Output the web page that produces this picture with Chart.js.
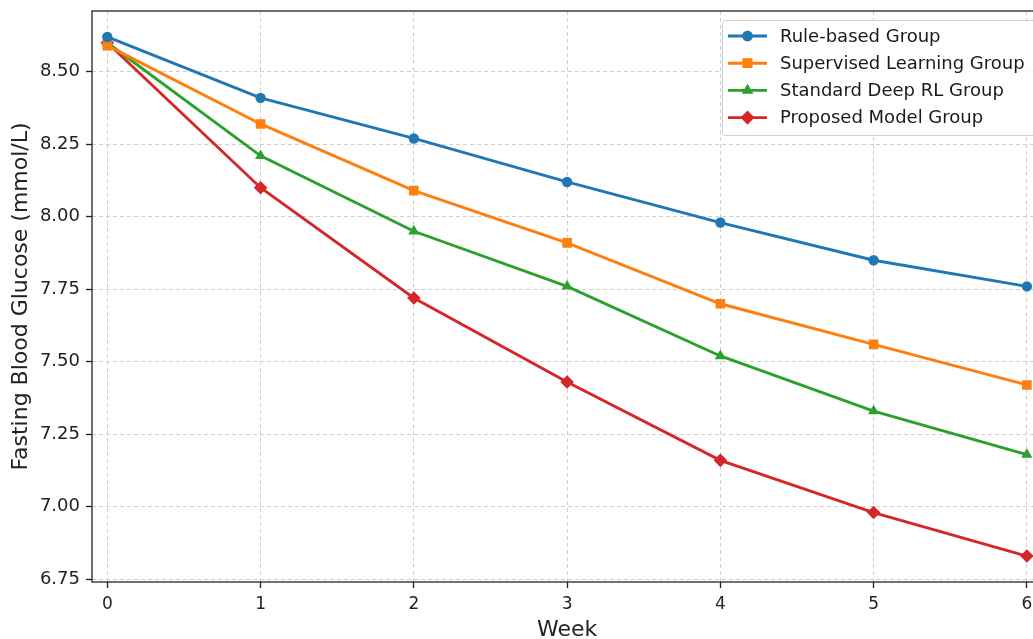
<!DOCTYPE html>
<html>
<head>
<meta charset="utf-8">
<script src="https://cdn.jsdelivr.net/npm/chart.js@4.4.1/dist/chart.umd.min.js"></script>
<style>
html,body{margin:0;padding:0;background:#fff;overflow:hidden;width:1033px;height:639px;}
#wrap{position:absolute;left:0;top:0;width:1049px;height:639px;}
</style>
</head>
<body>
<div id="wrap"><canvas id="c" width="1049" height="639"></canvas></div>
<script>
const weeks = [0, 1, 2, 3, 4, 5, 6];
const ruleBased = [8.62, 8.41, 8.27, 8.12, 7.98, 7.85, 7.76];
const supervised = [8.59, 8.32, 8.09, 7.91, 7.70, 7.56, 7.42];
const standardRL = [8.60, 8.21, 7.95, 7.76, 7.52, 7.33, 7.18];
const proposed = [8.60, 8.10, 7.72, 7.43, 7.16, 6.98, 6.83];
const yTicks = [6.75, 7.00, 7.25, 7.50, 7.75, 8.00, 8.25, 8.50];
const seriesNames = ['Rule-based Group', 'Supervised Learning Group', 'Standard Deep RL Group', 'Proposed Model Group'];

const colors = ['#1f77b4', '#ff7f0e', '#2ca02c', '#d62728'];
const markers = ['circle', 'rect', 'triangle', 'rectRot'];
const radii = [5.2, 6.8, 6.4, 6.8];
const FONT = "'DejaVu Sans', sans-serif";

function mk(vals, i) {
  return {
    label: seriesNames[i],
    data: weeks.map((w, k) => ({x: w, y: vals[k]})),
    borderColor: colors[i],
    backgroundColor: colors[i],
    borderWidth: 2.9,
    pointStyle: markers[i],
    pointRadius: radii[i],
    pointHoverRadius: radii[i],
    pointBorderWidth: 0,
    tension: 0
  };
}

const frame = {
  id: 'frame',
  afterDatasetsDraw(chart) {
    const {ctx, chartArea: a} = chart;
    ctx.save();
    ctx.strokeStyle = '#222';
    ctx.lineWidth = 1.3;
    ctx.strokeRect(a.left, a.top, a.right - a.left, a.bottom - a.top);
    // legend
    const lx = 722, ly = 20, lw = 330, lh = 115;
    ctx.fillStyle = 'rgba(255,255,255,0.85)';
    ctx.strokeStyle = '#d0d0d0';
    ctx.lineWidth = 1;
    ctx.beginPath();
    if (ctx.roundRect) ctx.roundRect(lx + 0.5, ly + 0.5, lw, lh, 3); else ctx.rect(lx + 0.5, ly + 0.5, lw, lh);
    ctx.fill(); ctx.stroke();
    ctx.font = '18px ' + FONT;
    ctx.textBaseline = 'middle';
    for (let i = 0; i < seriesNames.length; i++) {
      const y = 36 + i * 27.2;
      ctx.strokeStyle = colors[i];
      ctx.lineWidth = 2.9;
      ctx.beginPath(); ctx.moveTo(728, y); ctx.lineTo(767, y); ctx.stroke();
      ctx.fillStyle = colors[i];
      Chart.helpers.drawPoint(ctx, {pointStyle: markers[i], radius: radii[i], borderWidth: 0}, 747.5, y);
      ctx.fill();
      ctx.fillStyle = '#1a1a1a';
      ctx.fillText(seriesNames[i], 780, y + 1);
    }
    ctx.restore();
  }
};

new Chart(document.getElementById('c'), {
  type: 'line',
  data: { datasets: [mk(ruleBased, 0), mk(supervised, 1), mk(standardRL, 2), mk(proposed, 3)] },
  options: {
    responsive: false,
    animation: false,
    events: [],
    layout: { padding: { top: 11, right: 2, left: 0, bottom: 0 } },
    plugins: { legend: { display: false }, tooltip: { enabled: false } },
    scales: {
      x: {
        type: 'linear',
        min: -0.1, max: 6.1,
        afterBuildTicks(s) { s.ticks = weeks.map(v => ({value: v})); },
        afterFit(s) { s.height = 57; s.paddingLeft = 0; s.paddingRight = 0; },
        ticks: { color: '#222', font: { family: FONT, size: 17 }, padding: 6, callback: v => String(v) },
        grid: { color: '#cfcfcf', lineWidth: 1, tickLength: 6, tickColor: '#222', tickWidth: 1.3, tickBorderDash: [] },
        border: { display: false, dash: [4, 3] },
        title: { display: true, text: 'Week', color: '#222', font: { family: FONT, size: 22 }, padding: { top: 1, bottom: -4 } }
      },
      y: {
        min: 6.7405, max: 8.7095,
        afterBuildTicks(s) { s.ticks = yTicks.map(v => ({value: v})); },
        afterFit(s) { s.width = 92; s.paddingTop = 0; s.paddingBottom = 0; },
        ticks: { color: '#222', font: { family: FONT, size: 18 }, padding: 6, callback: v => Number(v).toFixed(2) },
        grid: { color: '#cfcfcf', lineWidth: 1, tickLength: 6, tickColor: '#222', tickWidth: 1.3, tickBorderDash: [] },
        border: { display: false, dash: [4, 3] },
        title: { display: true, text: 'Fasting Blood Glucose (mmol/L)', color: '#222', font: { family: FONT, size: 22 }, padding: { top: 8, bottom: 0 } }
      }
    }
  },
  plugins: [frame]
});
</script>
</body>
</html>
